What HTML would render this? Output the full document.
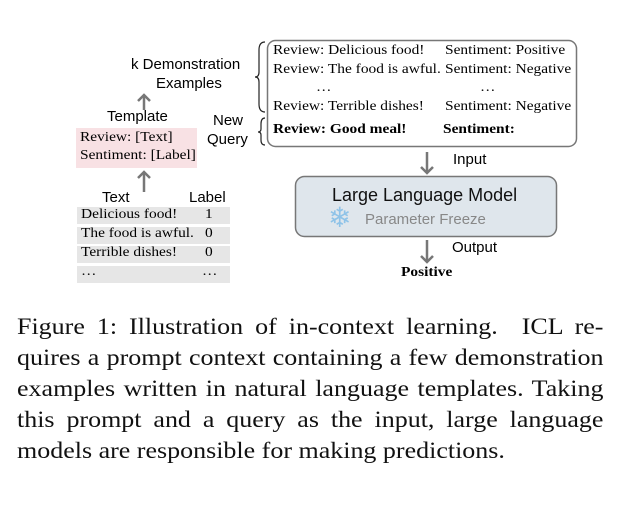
<!DOCTYPE html>
<html><head><style>
body{margin:0;width:619px;height:513px;background:#fff;position:relative;overflow:hidden}
.a{position:absolute;white-space:nowrap}
.s{font-family:"Liberation Sans",sans-serif}
.r{font-family:"Liberation Serif",serif;transform:scaleX(1.1);transform-origin:left top}
.cap{position:absolute;left:17px;width:519px;font-family:"Liberation Serif",serif;font-size:23px;line-height:23px;text-align:justify;text-align-last:justify;white-space:nowrap;color:#111;transform:scaleX(1.13);transform-origin:left top}
.row{position:absolute;left:77px;width:153px;height:17px;background:#e6e6e6}
</style></head><body>
<svg class="a" style="left:0;top:0" width="619" height="300">
<rect x="267.5" y="40.5" width="309" height="106" rx="8" fill="#fff" stroke="#777" stroke-width="1.5"/>
<rect x="295.5" y="176.5" width="261" height="60" rx="9" fill="#dfe6ec" stroke="#777" stroke-width="1.5"/>
<rect x="76" y="128" width="121" height="40" fill="#f8e1e4"/>
<path d="M265,42 Q259,42 259,50 L259,72 Q259,77 255,77 Q259,77 259,82 L259,104 Q259,112 265,112" fill="none" stroke="#222" stroke-width="1.2"/>
<path d="M265,118 Q261,118 261,124 L261,129 Q261,132 258,132 Q261,132 261,135 L261,140 Q261,145 265,145" fill="none" stroke="#222" stroke-width="1.2"/>
<g stroke="#777" stroke-width="2.5" fill="none">
<line x1="144" y1="110" x2="144" y2="96"/><path d="M138,101 L144,95 L150,101"/>
<line x1="144" y1="192" x2="144" y2="173"/><path d="M138,178 L144,172 L150,178"/>
<line x1="427" y1="152" x2="427" y2="172"/><path d="M421,167 L427,173 L433,167"/>
<line x1="427" y1="240" x2="427" y2="261"/><path d="M421,256 L427,262 L433,256"/>
</g>
</svg>
<div class="a" style="left:328px;top:203px;font-size:28px;line-height:30px;color:#8fc3e8;font-family:'DejaVu Sans',sans-serif">❄</div>
<div class="a s" style="left:131px;top:56px;font-size:15px">k Demonstration</div>
<div class="a s" style="left:156px;top:75px;font-size:15px">Examples</div>
<div class="a s" style="left:107px;top:108px;font-size:15px">Template</div>
<div class="a r" style="left:80px;top:130px;font-size:14px">Review: [Text]</div>
<div class="a r" style="left:80px;top:148px;font-size:14px">Sentiment: [Label]</div>
<div class="a s" style="left:213px;top:112px;font-size:15px">New</div>
<div class="a s" style="left:207px;top:131px;font-size:15px">Query</div>
<div class="a s" style="left:102px;top:189px;font-size:15px">Text</div>
<div class="a s" style="left:189px;top:189px;font-size:15px">Label</div>
<div class="row" style="top:207px"></div><div class="row" style="top:227px"></div><div class="row" style="top:246px"></div><div class="row" style="top:266px"></div>
<div class="a r" style="left:81px;top:207px;font-size:14px">Delicious food!</div><div class="a r" style="left:205px;top:207px;font-size:14px">1</div>
<div class="a r" style="left:81px;top:226px;font-size:14px">The food is awful.</div><div class="a r" style="left:205px;top:226px;font-size:14px">0</div>
<div class="a r" style="left:81px;top:245px;font-size:14px">Terrible dishes!</div><div class="a r" style="left:205px;top:245px;font-size:14px">0</div>
<div class="a r" style="left:81px;top:264px;font-size:14px">…</div><div class="a r" style="left:202px;top:264px;font-size:14px">…</div>
<div class="a r" style="left:273px;top:43px;font-size:14px">Review: Delicious food!</div>
<div class="a r" style="left:445px;top:43px;font-size:14px">Sentiment: Positive</div>
<div class="a r" style="left:273px;top:62px;font-size:14px">Review: The food is awful.</div>
<div class="a r" style="left:445px;top:62px;font-size:14px">Sentiment: Negative</div>
<div class="a r" style="left:316px;top:80px;font-size:14px">…</div>
<div class="a r" style="left:480px;top:80px;font-size:14px">…</div>
<div class="a r" style="left:273px;top:99px;font-size:14px">Review: Terrible dishes!</div>
<div class="a r" style="left:445px;top:99px;font-size:14px">Sentiment: Negative</div>
<div class="a r" style="left:273px;top:122px;font-size:14px;font-weight:bold">Review: Good meal!</div>
<div class="a r" style="left:443px;top:122px;font-size:14px;font-weight:bold">Sentiment:</div>
<div class="a s" style="left:453px;top:151px;font-size:15px">Input</div>
<div class="a s" style="left:332px;top:185px;font-size:18px;color:#111">Large Language Model</div>
<div class="a s" style="left:365px;top:211px;font-size:15px;color:#888">Parameter Freeze</div>
<div class="a s" style="left:452px;top:239px;font-size:15px">Output</div>
<div class="a r" style="left:401px;top:265px;font-size:14px;font-weight:bold">Positive</div>
<div class="cap" style="top:315px">Figure 1: Illustration of in-context learning. &nbsp;ICL re-</div>
<div class="cap" style="top:346px">quires a prompt context containing a few demonstration</div>
<div class="cap" style="top:377px">examples written in natural language templates. Taking</div>
<div class="cap" style="top:408px">this prompt and a query as the input, large language</div>
<div class="cap" style="top:439px;text-align-last:left">models are responsible for making predictions.</div>
</body></html>
